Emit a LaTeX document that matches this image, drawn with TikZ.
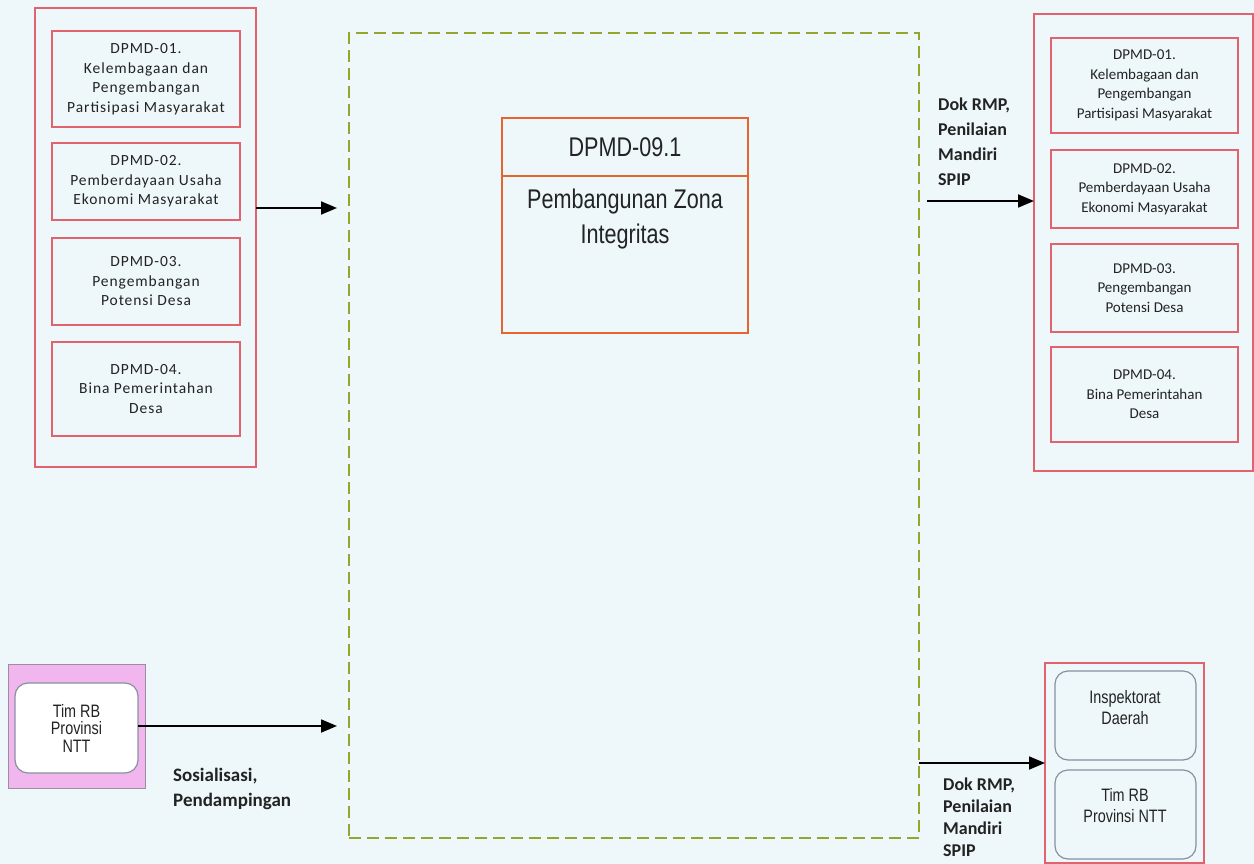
\documentclass[tikz,border=0pt]{standalone}
\usepackage{fontspec}
\setmainfont{Carlito}
\newfontfamily\narrowsans[FakeStretch=0.8]{Liberation Sans}
\newfontfamily\spacedcal[LetterSpace=6]{Carlito}
\usetikzlibrary{arrows.meta}
\definecolor{bg}{RGB}{238,248,251}
\definecolor{boxred}{RGB}{226,98,110}
\definecolor{olivedash}{RGB}{150,165,45}
\definecolor{zorange}{RGB}{232,100,45}
\definecolor{lilac}{RGB}{242,182,238}
\definecolor{greyblue}{RGB}{135,145,160}
\definecolor{ink}{RGB}{35,35,35}
\begin{document}
\begin{tikzpicture}[x=1pt,y=-1pt,
  every node/.style={text=ink},
  frame/.style={draw=boxred, line width=1.3pt, inner sep=0pt, outer sep=0pt, anchor=north west},
  unitL/.style={frame, font=\spacedcal\fontsize{15.5}{19.5}\selectfont, align=center, minimum width=188pt},
  unitR/.style={frame, font=\fontsize{15}{19.5}\selectfont, align=center, minimum width=187pt},
  rbox/.style={draw=greyblue, line width=1.2pt, rounded corners=13pt, inner sep=0pt, outer sep=0pt, anchor=north west, align=center},
  flowlabel/.style={font=\bfseries\fontsize{18}{25}\selectfont, align=left, inner sep=0pt, anchor=north west},
  arr/.style={line width=1.8pt, -{Triangle[length=16pt,width=13pt]}}
]
\useasboundingbox[fill=bg] (0,0) rectangle (1254,864);

% left group of units
\node[frame, minimum width=221pt, minimum height=459pt] (lout) at (35,8) {};
\node[unitL, minimum height=96pt] (l1) at (52,31) {DPMD-01.\\Kelembagaan dan\\Pengembangan\\Partisipasi Masyarakat};
\node[unitL, minimum height=77pt] (l2) at (52,143) {DPMD-02.\\Pemberdayaan Usaha\\Ekonomi Masyarakat};
\node[unitL, minimum height=87pt] (l3) at (52,238) {DPMD-03.\\Pengembangan\\Potensi Desa};
\node[unitL, minimum height=94pt] (l4) at (52,342) {DPMD-04.\\Bina Pemerintahan\\Desa};

% right group of units
\node[frame, minimum width=219pt, minimum height=457pt] (rout) at (1034,14) {};
\node[unitR, minimum height=95pt] (r1) at (1051,38) {DPMD-01.\\Kelembagaan dan\\Pengembangan\\Partisipasi Masyarakat};
\node[unitR, minimum height=78pt] (r2) at (1051,150) {DPMD-02.\\Pemberdayaan Usaha\\Ekonomi Masyarakat};
\node[unitR, minimum height=88pt] (r3) at (1051,244) {DPMD-03.\\Pengembangan\\Potensi Desa};
\node[unitR, minimum height=95pt] (r4) at (1051,347) {DPMD-04.\\Bina Pemerintahan\\Desa};

% process area
\node[draw=olivedash, line width=1.6pt, dash pattern=on 12pt off 6pt, inner sep=0pt, outer sep=0pt,
      anchor=north west, minimum width=570pt, minimum height=805pt] (proc) at (349,33) {};
\node[draw=zorange, line width=1.8pt, inner sep=0pt, outer sep=0pt, anchor=north west,
      minimum width=246pt, minimum height=215pt] (zi) at (502,118) {};
\coordinate (zisplit) at (502,176);
\draw[draw=zorange, line width=1.8pt] (zisplit) -- (zisplit -| zi.east);
\node[font=\narrowsans\fontsize{27}{30}\selectfont] (zicode) at (625,147) {DPMD-09.1};
\node[font=\narrowsans\fontsize{27}{35}\selectfont, align=center] (ziname) at (625,219.5) {Pembangunan Zona\\Integritas};

% provincial team (source)
\node[draw={rgb,255:red,160;green,140;blue,160}, fill=lilac, line width=1pt, inner sep=0pt, outer sep=0pt,
      anchor=north west, minimum width=137pt, minimum height=124pt] (tpbg) at (8,664) {};
\node[rbox, fill=white, minimum width=123pt, minimum height=90pt,
      font=\narrowsans\fontsize{18}{17.5}\selectfont] (tp) at (15,683) {Tim RB\\Provinsi\\NTT};

% reviewers (target)
\node[frame, minimum width=159pt, minimum height=200pt] (rev) at (1045,663) {};
\node[rbox, minimum width=141pt, minimum height=89pt] (insp) at (1055,671) {};
\node[font=\narrowsans\fontsize{18}{21}\selectfont, align=center] (insptxt) at (1125,708) {Inspektorat\\Daerah};
\node[rbox, minimum width=141pt, minimum height=89pt] (trb) at (1055,770) {};
\node[font=\narrowsans\fontsize{18}{21}\selectfont, align=center] (trbtxt) at (1125,806) {Tim RB\\Provinsi NTT};

% connectors
\coordinate (a1s) at (lout.east |- 0,208);
\coordinate (a1e) at (337,208);
\draw[arr] (a1s) -- (a1e);
\coordinate (a2s) at (927,201);
\coordinate (a2e) at (rout.west |- 0,201);
\draw[arr] (a2s) -- (a2e);
\coordinate (a3s) at (tp.east |- 0,726);
\coordinate (a3e) at (337,726);
\draw[arr] (a3s) -- (a3e);
\coordinate (a4s) at (proc.east |- 0,763);
\coordinate (a4e) at (rev.west |- 0,763);
\draw[arr] (a4s) -- (a4e);

% connector labels
\node[flowlabel] (lbl2) at (938,98) {Dok RMP,\\Penilaian\\Mandiri\\SPIP};
\node[flowlabel, font=\bfseries\fontsize{18}{22}\selectfont] (lbl4) at (943,778) {Dok RMP,\\Penilaian\\Mandiri\\SPIP};
\node[flowlabel, font=\bfseries\fontsize{19}{25}\selectfont] (lbl3) at (173,768) {Sosialisasi,\\Pendampingan};
\end{tikzpicture}
\end{document}
